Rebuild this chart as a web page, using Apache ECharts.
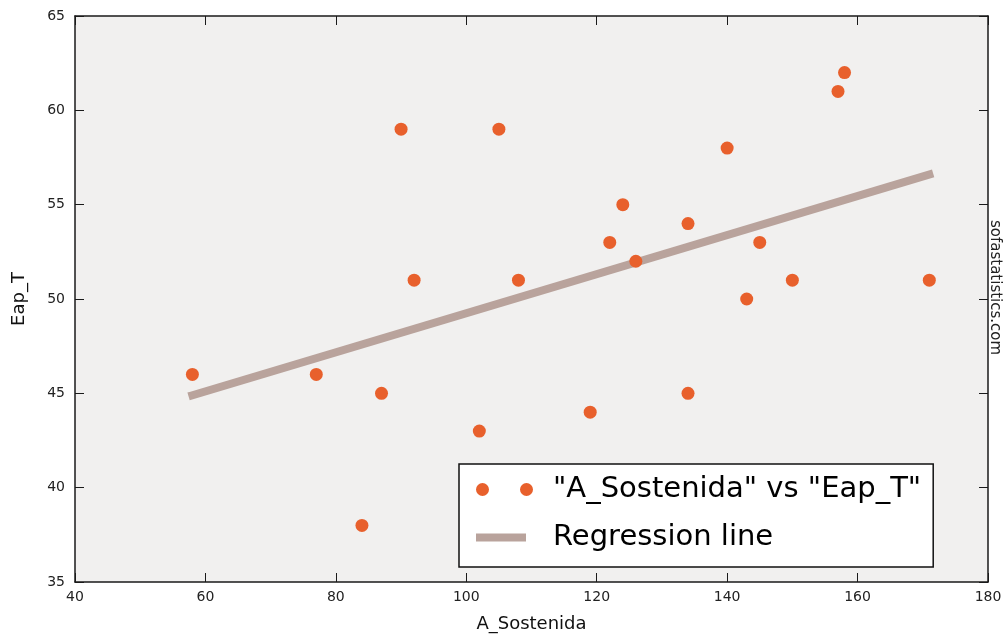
<!DOCTYPE html>
<html>
<head>
<meta charset="utf-8">
<script src="https://cdn.jsdelivr.net/npm/echarts@6/dist/echarts.min.js"></script>
<style>
html,body{margin:0;padding:0;background:#fff;}
#chart{width:1008px;height:641px;}
</style>
</head>
<body>
<div id="chart"></div>
<script>
// Data
const xValues = [58, 77, 84, 87, 90, 92, 102, 105, 108, 119, 122, 124, 126, 134, 134, 140, 143, 145, 150, 157, 158, 171];
const yValues = [46, 46, 38, 45, 59, 51, 43, 59, 51, 44, 53, 55, 52, 54, 45, 58, 50, 53, 51, 61, 62, 51];
const regX = [58, 171];
const regY = [44.9, 56.6];
const xTicks = [40, 60, 80, 100, 120, 140, 160, 180];
const yTicks = [35, 40, 45, 50, 55, 60, 65];
const scatterName = '"A_Sostenida" vs "Eap_T"';
const lineName = 'Regression line';
const xTitle = 'A_Sostenida';
const yTitle = 'Eap_T';
const watermark = 'sofastatistics.com';

const FONT = 'DejaVu Sans';
const DOT = '#e8602c';
const LINE = '#b9a39c';
const AX = '#1a1a1a';

const scatterData = xValues.map((x, i) => [x, yValues[i]]);
const lineData = regX.map((x, i) => [x, regY[i]]);

const chart = echarts.init(document.getElementById('chart'), null, {renderer: 'canvas'});

function baseX(pos, showLabels) {
  return {
    type: 'value', position: pos, min: xTicks[0], max: xTicks[xTicks.length - 1], interval: 20,
    axisLine: {show: true, onZero: false, lineStyle: {color: AX, width: 1.5}},
    axisTick: {show: true, inside: true, length: 9, lineStyle: {color: AX, width: 1}},
    axisLabel: {show: showLabels, margin: 8, color: '#222', fontFamily: FONT, fontSize: 14},
    splitLine: {show: false}
  };
}
function baseY(pos, showLabels) {
  return {
    type: 'value', position: pos, min: yTicks[0], max: yTicks[yTicks.length - 1], interval: 5,
    axisLine: {show: true, onZero: false, lineStyle: {color: AX, width: 1.5}},
    axisTick: {show: true, inside: true, length: 9, lineStyle: {color: AX, width: 1}},
    axisLabel: {show: showLabels, margin: 10, color: '#222', fontFamily: FONT, fontSize: 14},
    splitLine: {show: false}
  };
}

const xBottom = Object.assign(baseX('bottom', true), {
  name: xTitle, nameLocation: 'middle', nameGap: 33,
  nameTextStyle: {fontFamily: FONT, fontSize: 18, color: '#111'}
});
const xTop = baseX('top', false);
const yLeft = Object.assign(baseY('left', true), {
  name: yTitle, nameLocation: 'middle', nameGap: 47,
  nameTextStyle: {fontFamily: FONT, fontSize: 18, color: '#111'}
});
const yRight = baseY('right', false);

const option = {
  backgroundColor: '#ffffff',
  animation: false,
  grid: {left: 75, right: 20, top: 16, bottom: 59, show: true, backgroundColor: '#f1f0ef', borderWidth: 0},
  xAxis: [xBottom, xTop],
  yAxis: [yLeft, yRight],
  legend: {
    orient: 'vertical', left: 459, top: 464,
    backgroundColor: '#ffffff', borderColor: '#111', borderWidth: 1.5,
    padding: [11, 12, 15, 17],
    itemGap: 19, itemWidth: 72, itemHeight: 13,
    selectedMode: false,
    itemStyle: {borderWidth: 0},
    textStyle: {fontFamily: FONT, fontSize: 29, color: '#000'},
    data: [
      {name: scatterName, icon: 'path://M0,0M72,13M0,6.5A6.5,6.5,0,1,1,13,6.5A6.5,6.5,0,1,1,0,6.5ZM44,6.5A6.5,6.5,0,1,1,57,6.5A6.5,6.5,0,1,1,44,6.5Z', itemStyle: {color: DOT, borderWidth: 0, opacity: 1}},
      {name: lineName, icon: 'path://M0,0M72,13M0,2.5L50,2.5L50,10.5L0,10.5Z', itemStyle: {color: LINE, borderWidth: 0}}
    ]
  },
  graphic: [{
    type: 'text', left: 987, top: 220, rotation: -Math.PI / 2,
    style: {text: watermark, fontFamily: FONT, fontSize: 15, fill: '#222'}
  }],
  series: [
    {
      name: lineName, type: 'line', data: lineData, xAxisIndex: 0, yAxisIndex: 0,
      symbol: 'none', color: LINE, z: 2,
      lineStyle: {color: LINE, width: 8, cap: 'square'}
    },
    {
      name: scatterName, type: 'scatter', data: scatterData, xAxisIndex: 0, yAxisIndex: 0,
      symbol: 'circle', symbolSize: 13, color: DOT, z: 3,
      itemStyle: {color: DOT, opacity: 1}
    }
  ]
};
chart.setOption(option);
</script>
</body>
</html>
